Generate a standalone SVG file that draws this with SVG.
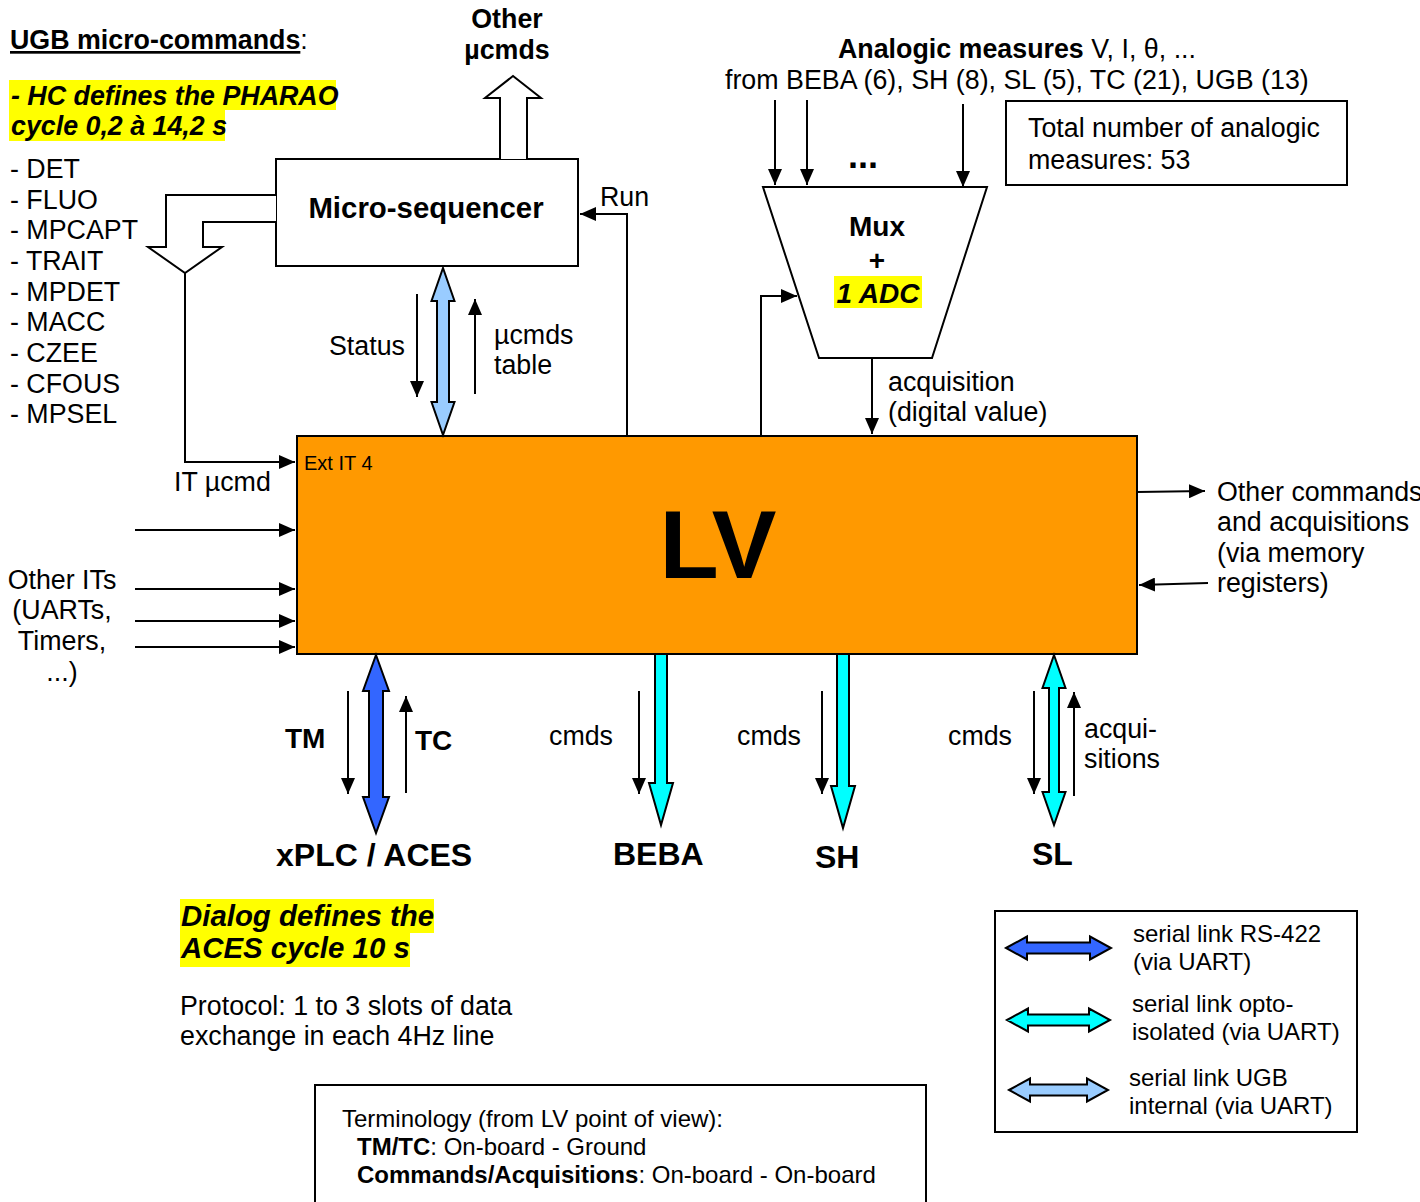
<svg xmlns="http://www.w3.org/2000/svg" width="1420" height="1202" viewBox="0 0 1420 1202">
  <defs>
    <marker id="ah" markerWidth="16" markerHeight="14" refX="16" refY="7" orient="auto" markerUnits="userSpaceOnUse">
      <path d="M0,0 L16,7 L0,14 z" fill="#000"/>
    </marker>
    <style>
      text { font-family: "Liberation Sans", Arial, sans-serif; font-size: 26.8px; fill: #000; }
      .b { font-weight: bold; }
      .bi { font-weight: bold; font-style: italic; }
      .sm { font-size: 24px; }
      .mid { text-anchor: middle; }
      .box { fill: #fff; stroke: #000; stroke-width: 2; }
      .wire { fill: none; stroke: #000; stroke-width: 2; marker-end: url(#ah); }
      .hollow { fill: #fff; stroke: #000; stroke-width: 2; stroke-linejoin: miter; }
      .fat { stroke: #000; stroke-width: 2; stroke-linejoin: miter; }
      .rs422 { fill: #3366FF; }
      .opto { fill: #00FFFF; }
      .ugb { fill: #99CCFF; }
      .hl { fill: #FFFF00; }
    </style>
  </defs>

  <!-- heading and micro-command list -->
  <g id="ugb-notes">
    <text x="10" y="49"><tspan class="b" text-decoration="underline">UGB micro-commands</tspan>:</text>
    <rect class="hl" x="9" y="80" width="327" height="30"/>
    <rect class="hl" x="9" y="110" width="216" height="31"/>
    <text class="bi" x="11" y="105">- HC defines the PHARAO</text>
    <text class="bi" x="11" y="135">cycle 0,2 à 14,2 s</text>
    <text x="10" y="178">- DET</text>
    <text x="10" y="209">- FLUO</text>
    <text x="10" y="239">- MPCAPT</text>
    <text x="10" y="270">- TRAIT</text>
    <text x="10" y="301">- MPDET</text>
    <text x="10" y="331">- MACC</text>
    <text x="10" y="362">- CZEE</text>
    <text x="10" y="393">- CFOUS</text>
    <text x="10" y="423">- MPSEL</text>
  </g>

  <!-- Micro-sequencer block -->
  <g id="micro-sequencer">
    <rect class="box" x="276" y="159" width="302" height="107"/>
    <text class="b mid" x="426" y="218" style="font-size:29.4px">Micro-sequencer</text>
  </g>

  <!-- Mux + ADC block -->
  <g id="mux-adc">
    <polygon class="box" points="763,187 987,187 932,358 819,358"/>
    <text class="b mid" x="877" y="236" style="font-size:28px">Mux</text>
    <text class="b mid" x="877" y="270" style="font-size:28px">+</text>
    <rect class="hl" x="834" y="276" width="88" height="32"/>
    <text class="bi mid" x="878" y="303" style="font-size:28px">1 ADC</text>
  </g>

  <!-- LV processor -->
  <g id="lv">
    <rect x="297" y="436" width="840" height="218" fill="#FF9900" stroke="#000" stroke-width="2"/>
    <text x="304" y="470" style="font-size:20px">Ext IT 4</text>
    <text class="b mid" x="718" y="578" style="font-size:97px">LV</text>
  </g>

  <!-- analogic measures note -->
  <g id="analog-notes">
    <text x="838" y="58"><tspan class="b">Analogic measures</tspan> V, I, θ, ...</text>
    <text x="725" y="89">from BEBA (6), SH (8), SL (5), TC (21), UGB (13)</text>
    <text class="b" x="848" y="168" style="font-size:36px">...</text>
  </g>

  <g id="total-box">
    <rect class="box" x="1006" y="101" width="341" height="84"/>
    <text x="1028" y="137">Total number of analogic</text>
    <text x="1028" y="169">measures: 53</text>
  </g>

  <!-- endpoints -->
  <g id="other-ucmds"><text class="b mid" x="507" y="28">Other</text><text class="b mid" x="507" y="59">µcmds</text></g>
  <g id="other-its">
    <text class="mid" x="62" y="589">Other ITs</text>
    <text class="mid" x="62" y="619">(UARTs,</text>
    <text class="mid" x="62" y="650">Timers,</text>
    <text class="mid" x="62" y="681">...)</text>
  </g>
  <g id="other-commands">
    <text x="1217" y="501">Other commands</text>
    <text x="1217" y="531">and acquisitions</text>
    <text x="1217" y="562">(via memory</text>
    <text x="1217" y="592">registers)</text>
  </g>
  <g id="xplc-aces"><text class="b" x="276" y="866" style="font-size:32px">xPLC / ACES</text></g>
  <g id="beba"><text class="b" x="613" y="865" style="font-size:32px">BEBA</text></g>
  <g id="sh"><text class="b" x="815" y="868" style="font-size:32px">SH</text></g>
  <g id="sl"><text class="b" x="1032" y="865" style="font-size:32px">SL</text></g>

  <!-- connectors -->
  <g id="connectors">
    <!-- hollow micro-command outputs -->
    <polyline class="hollow" points="500,159 500,98 485,98 513,76 541,98 527,98 527,159"/>
    <polyline class="hollow" points="276,195 166,195 166,247 148,247 185,273 222,247 203,247 203,222 276,222"/>

    <!-- interrupts into LV -->
    <path class="wire" d="M185,273 V462 H295"/>
    <path class="wire" d="M135,530 H295"/>
    <path class="wire" d="M135,589 H295"/>
    <path class="wire" d="M135,621 H295"/>
    <path class="wire" d="M135,647 H295"/>

    <!-- LV <-> micro-sequencer -->
    <polygon class="fat ugb" points="443,268 454.5,301 449,301 449,402 454.5,402 443,435 431.5,402 437,402 437,301 431.5,301"/>
    <path class="wire" d="M417,294 V397"/>
    <path class="wire" d="M475,394 V299"/>
    <path class="wire" d="M627,436 V214 H580"/>

    <!-- analogic chain -->
    <path class="wire" d="M775,100 V185"/>
    <path class="wire" d="M807,100 V185"/>
    <path class="wire" d="M963,104 V187"/>
    <path class="wire" d="M761,436 V296 H797"/>
    <path class="wire" d="M872,358 V434"/>

    <!-- memory-mapped I/O -->
    <path class="wire" d="M1137,492 L1205,491"/>
    <path class="wire" d="M1208,583 L1139,585"/>

    <!-- serial links -->
    <polygon class="fat rs422" points="376,655 389,691 383,691 383,797 389,797 376,833 363,797 369,797 369,691 363,691"/>
    <path class="wire" d="M348,691 V794"/>
    <path class="wire" d="M406,793 V696"/>

    <polygon class="fat opto" points="655,654 667,654 667,783 673,783 661,825 649,783 655,783"/>
    <path class="wire" d="M639,691 V794"/>

    <polygon class="fat opto" points="837,654 849,654 849,786 855,786 843,828 831,786 837,786"/>
    <path class="wire" d="M822,691 V794"/>

    <polygon class="fat opto" points="1054,655 1065.5,688 1059,688 1059,792 1065.5,792 1054,825 1042.5,792 1049,792 1049,688 1042.5,688"/>
    <path class="wire" d="M1034,691 V794"/>
    <path class="wire" d="M1074,796 V692"/>
  </g>

  <!-- connector labels -->
  <g id="labels">
    <text x="329" y="355">Status</text>
    <text x="494" y="344">µcmds</text>
    <text x="494" y="374">table</text>
    <text x="600" y="206">Run</text>
    <text x="888" y="391">acquisition</text>
    <text x="888" y="421">(digital value)</text>
    <text x="174" y="491">IT µcmd</text>
    <text class="b" x="285" y="748" style="font-size:28px">TM</text>
    <text class="b" x="415" y="750" style="font-size:28px">TC</text>
    <text x="549" y="745">cmds</text>
    <text x="737" y="745">cmds</text>
    <text x="948" y="745">cmds</text>
    <text x="1084" y="738">acqui-</text>
    <text x="1084" y="768">sitions</text>
  </g>

  <!-- ACES dialog notes -->
  <g id="aces-notes">
    <rect class="hl" x="180" y="899" width="254" height="34"/>
    <rect class="hl" x="180" y="933" width="230" height="34"/>
    <text class="bi" x="181" y="926" style="font-size:29.4px">Dialog defines the</text>
    <text class="bi" x="181" y="958" style="font-size:29.4px">ACES cycle 10 s</text>
    <text x="180" y="1015">Protocol: 1 to 3 slots of data</text>
    <text x="180" y="1045">exchange in each 4Hz line</text>
  </g>

  <g id="terminology">
    <rect class="box" x="315" y="1085" width="611" height="140"/>
    <text class="sm" x="342" y="1127">Terminology (from LV point of view):</text>
    <text class="sm" x="357" y="1155"><tspan class="b">TM/TC</tspan>: On-board - Ground</text>
    <text class="sm" x="357" y="1183"><tspan class="b">Commands/Acquisitions</tspan>: On-board - On-board</text>
  </g>

  <!-- legend -->
  <g id="legend">
    <rect class="box" x="995" y="911" width="362" height="221"/>
    <polygon class="fat rs422" points="1006,948 1027,936.5 1027,942.5 1090,942.5 1090,936.5 1111,948 1090,959.5 1090,953.5 1027,953.5 1027,959.5"/>
    <polygon class="fat opto" points="1007,1020 1028,1008.5 1028,1014.5 1089,1014.5 1089,1008.5 1110,1020 1089,1031.5 1089,1025.5 1028,1025.5 1028,1031.5"/>
    <polygon class="fat ugb" points="1009,1090 1030,1078.5 1030,1084.5 1087,1084.5 1087,1078.5 1108,1090 1087,1101.5 1087,1095.5 1030,1095.5 1030,1101.5"/>
    <text class="sm" x="1133" y="942">serial link RS-422</text>
    <text class="sm" x="1133" y="970">(via UART)</text>
    <text class="sm" x="1132" y="1012">serial link opto-</text>
    <text class="sm" x="1132" y="1040">isolated (via UART)</text>
    <text class="sm" x="1129" y="1086">serial link UGB</text>
    <text class="sm" x="1129" y="1114">internal (via UART)</text>
  </g>
</svg>
